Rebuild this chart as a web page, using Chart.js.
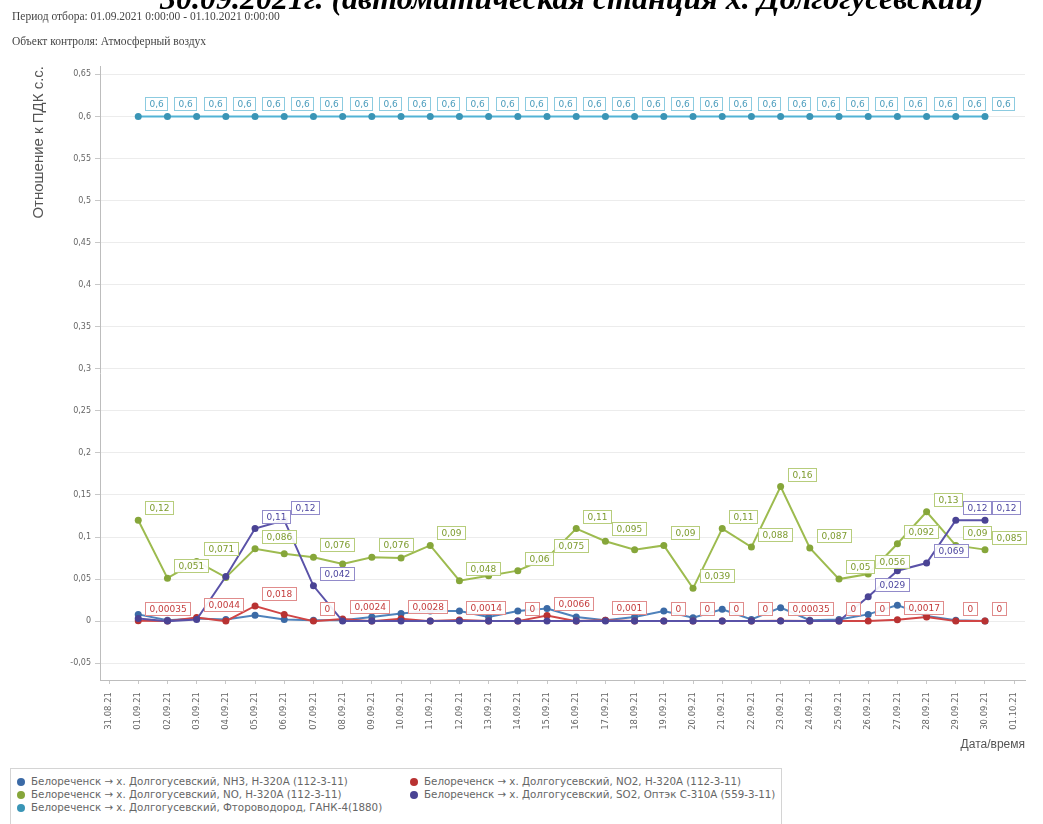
<!DOCTYPE html>
<html lang="ru">
<head>
<meta charset="utf-8">
<title>Белореченск → х. Долгогусевский</title>
<script src="https://cdn.jsdelivr.net/npm/chart.js@4.4.1/dist/chart.umd.min.js"></script>
<style>
  html, body { margin: 0; padding: 0; background: #fff; }
  body { width: 1043px; height: 824px; position: relative; overflow: hidden; }
  .doc-title { position: absolute; left: 160px; top: -18px; font: italic bold 32px/1 "Liberation Serif", serif; color: #000; white-space: nowrap; z-index: 2; }
  .doc-meta { position: absolute; left: 12px; font: 11.5px/1 "Liberation Serif", serif; color: #444; white-space: nowrap; z-index: 2; }
  #chartBox { position: absolute; left: 0; top: 0; width: 1043px; height: 760px; }
  .legend { position: absolute; left: 10px; top: 768px; width: 772px; height: 70px; border: 1px solid #d4d4d4; box-sizing: border-box; padding-top: 6px;
            display: grid; grid-template-columns: 393px auto; grid-auto-rows: 13px; font: 10.3px/13px "DejaVu Sans", sans-serif; color: #666; }
  .legend-item { display: flex; align-items: center; white-space: nowrap; }
  .legend-dot { width: 8px; height: 8px; border-radius: 50%; margin: 0 6px 0 6px; flex: none; }
</style>
</head>
<body>
<div class="doc-title">30.09.2021г. (автоматическая станция х. Долгогусевский)</div>
<div class="doc-meta" style="top:11px">Период отбора: 01.09.2021 0:00:00 - 01.10.2021 0:00:00</div>
<div class="doc-meta" style="top:36px">Объект контроля: Атмосферный воздух</div>
<div id="chartBox"><canvas id="chart"></canvas></div>
<div class="legend" id="legend"></div>

<script>
// ── Data ───────────────────────────────────────────────────────────────────

const dateLabels = [
  '31.08.21', '01.09.21', '02.09.21', '03.09.21', '04.09.21', '05.09.21', '06.09.21', '07.09.21',
  '08.09.21', '09.09.21', '10.09.21', '11.09.21', '12.09.21', '13.09.21', '14.09.21', '15.09.21',
  '16.09.21', '17.09.21', '18.09.21', '19.09.21', '20.09.21', '21.09.21', '22.09.21', '23.09.21',
  '24.09.21', '25.09.21', '26.09.21', '27.09.21', '28.09.21', '29.09.21', '30.09.21', '01.10.21'
];

// values for 01.09 … 30.09 (ratio to MPC)
const nh3 = [0.008, 0.001, 0.003, 0.002, 0.007, 0.002, 0.001, 0.001, 0.005, 0.009,
             0.012, 0.012, 0.005, 0.012, 0.015, 0.005, 0.001, 0.005, 0.012, 0.004,
             0.014, 0.002, 0.016, 0.001, 0.002, 0.008, 0.019, 0.006, 0.001, 0];
const no2 = [0.00035, 0, 0.0044, 0, 0.018, 0.008, 0, 0.0024, 0, 0.0028,
             0, 0.0014, 0, 0, 0.0066, 0, 0.001, 0, 0, 0,
             0, 0, 0.00035, 0, 0, 0, 0.0017, 0.005, 0, 0];
const no  = [0.12, 0.051, 0.071, 0.052, 0.086, 0.08, 0.076, 0.068, 0.076, 0.075,
             0.09, 0.048, 0.054, 0.06, 0.075, 0.11, 0.095, 0.085, 0.09, 0.039,
             0.11, 0.088, 0.16, 0.087, 0.05, 0.056, 0.092, 0.13, 0.09, 0.085];
const so2 = [0.003, 0, 0.002, 0.053, 0.11, 0.12, 0.042, 0, 0, 0,
             0, 0, 0, 0, 0, 0, 0, 0, 0, 0,
             0, 0, 0, 0, 0, 0.029, 0.06, 0.069, 0.12, 0.12];
const hf  = [0.6, 0.6, 0.6, 0.6, 0.6, 0.6, 0.6, 0.6, 0.6, 0.6,
             0.6, 0.6, 0.6, 0.6, 0.6, 0.6, 0.6, 0.6, 0.6, 0.6,
             0.6, 0.6, 0.6, 0.6, 0.6, 0.6, 0.6, 0.6, 0.6, 0.6];

// points whose value label is visible (index 0 = 01.09)
const no2Labelled = [0, 2, 4, 6, 7, 9, 11, 13, 14, 16, 18, 19, 20, 21, 22, 24, 25, 26, 28, 29];
const noLabelled  = [0, 1, 2, 4, 6, 8, 10, 11, 13, 14, 15, 16, 18, 19, 20, 21, 22, 23, 24, 25, 26, 27, 28, 29];
const so2Labelled = [4, 5, 6, 25, 27, 28, 29];
const hfLabelled  = [0, 1, 2, 3, 4, 5, 6, 7, 8, 9, 10, 11, 12, 13, 14, 15, 16, 17, 18, 19,
                     20, 21, 22, 23, 24, 25, 26, 27, 28, 29];

const yTicks = [-0.05, 0, 0.05, 0.1, 0.15, 0.2, 0.25, 0.3, 0.35, 0.4, 0.45, 0.5, 0.55, 0.6, 0.65];

const SRC = 'Белореченск → х. Долгогусевский, ';

// ── Helpers ────────────────────────────────────────────────────────────────

const fmt = v => String(v).replace('.', ',');
const toPoints = arr => arr.map((v, i) => ({ x: i + 1, y: v }));
const FONT = '"DejaVu Sans", sans-serif';

const series = (label, values, line, point, labelled, lblText, lblBorder, order) => ({
  label,
  data: toPoints(values),
  borderColor: line,
  backgroundColor: point,
  pointBackgroundColor: point,
  pointBorderColor: point,
  pointRadius: 3.5,
  pointBorderWidth: 0,
  pointHoverRadius: 3.5,
  borderWidth: 2,
  tension: 0,
  order,
  labelled,
  lblText,
  lblBorder
});

// ── Value labels plugin ────────────────────────────────────────────────────

const valueLabels = {
  id: 'valueLabels',
  afterDatasetsDraw(chart) {
    const ctx = chart.ctx;
    ctx.save();
    ctx.font = '9px ' + FONT;
    ctx.textBaseline = 'middle';
    ctx.lineWidth = 1;
    chart.data.datasets.forEach((ds, di) => {
      if (!ds.labelled) return;
      const meta = chart.getDatasetMeta(di);
      ds.labelled.forEach(i => {
        const pt = meta.data[i];
        const text = fmt(ds.data[i].y);
        const w = Math.round(ctx.measureText(text).width) + 8;
        const bx = Math.round(pt.x + 7) + 0.5;
        const by = Math.round(pt.y - 19) + 0.5;
        ctx.fillStyle = 'rgba(255,255,255,0.92)';
        ctx.fillRect(bx, by, w, 13);
        ctx.strokeStyle = ds.lblBorder;
        ctx.strokeRect(bx, by, w, 13);
        ctx.fillStyle = ds.lblText;
        ctx.fillText(text, bx + 4, by + 7);
      });
    });
    ctx.restore();
  }
};

// ── Chart ──────────────────────────────────────────────────────────────────

const datasets = [
  series(SRC + 'NH3, Н-320А (112-3-11)', nh3, '#4f82bb', '#3b6aa6', null, '#3b6aa6', '#8aa8d0', 5),
  series(SRC + 'NO2, Н-320А (112-3-11)', no2, '#d04545', '#b83232', no2Labelled, '#c43c3c', '#e08c8c', 4),
  series(SRC + 'NO, Н-320А (112-3-11)', no, '#9dbb4f', '#86a63a', noLabelled, '#7d9b2e', '#b7cd7c', 3),
  series(SRC + 'SO2, Оптэк С-310А (559-3-11)', so2, '#5a52a8', '#4a4394', so2Labelled, '#4e47a0', '#928bca', 2),
  series(SRC + 'Фтороводород, ГАНК-4(1880)', hf, '#52b3d6', '#3a95b6', hfLabelled, '#4a9cbc', '#8ccbe0', 1)
];

const chart = new Chart(document.getElementById('chart'), {
  type: 'line',
  data: { datasets },
  plugins: [valueLabels],
  options: {
    responsive: true,
    maintainAspectRatio: false,
    animation: false,
    layout: { padding: { top: 66, right: 18, bottom: 4, left: 0 } },
    plugins: {
      legend: { display: false },
      tooltip: { enabled: false }
    },
    scales: {
      x: {
        type: 'linear',
        min: -0.31,
        max: 31.37,
        afterBuildTicks: s => { s.ticks = dateLabels.map((_, i) => ({ value: i })); },
        afterFit: s => { s.height = 76; },
        grid: { drawOnChartArea: false, drawTicks: true, tickLength: 4, color: '#c8c8c8' },
        border: { color: '#bdbdbd' },
        ticks: {
          autoSkip: false, minRotation: 90, maxRotation: 90, padding: 8,
          color: '#666', font: { family: FONT, size: 8.5 },
          callback: v => dateLabels[v]
        },
        title: {
          display: true, text: 'Дата/время', align: 'end',
          color: '#555', font: { family: '"Liberation Sans", sans-serif', size: 12 },
          padding: { top: 0, bottom: 4 }
        }
      },
      y: {
        min: -0.07,
        max: 0.66,
        afterBuildTicks: s => { s.ticks = yTicks.map(v => ({ value: v })); },
        afterFit: s => { s.width = 100; },
        grid: { color: '#ececec', tickLength: 5, tickColor: '#c8c8c8' },
        border: { color: '#bdbdbd' },
        ticks: {
          padding: 4, color: '#666', font: { family: FONT, size: 8 },
          callback: v => fmt(v)
        },
        title: {
          display: true, text: 'Отношение к ПДК с.с.', align: 'end',
          color: '#555', font: { family: '"Liberation Sans", sans-serif', size: 15 },
          padding: { top: 30, bottom: 0 }
        }
      }
    }
  }
});

// ── Legend ─────────────────────────────────────────────────────────────────

const legendEl = document.getElementById('legend');
legendEl.innerHTML = datasets.map(ds => `
  <div class="legend-item">
    <span class="legend-dot" style="background:${ds.pointBackgroundColor}"></span>
    <span>${ds.label}</span>
  </div>`).join('');
</script>
</body>
</html>
